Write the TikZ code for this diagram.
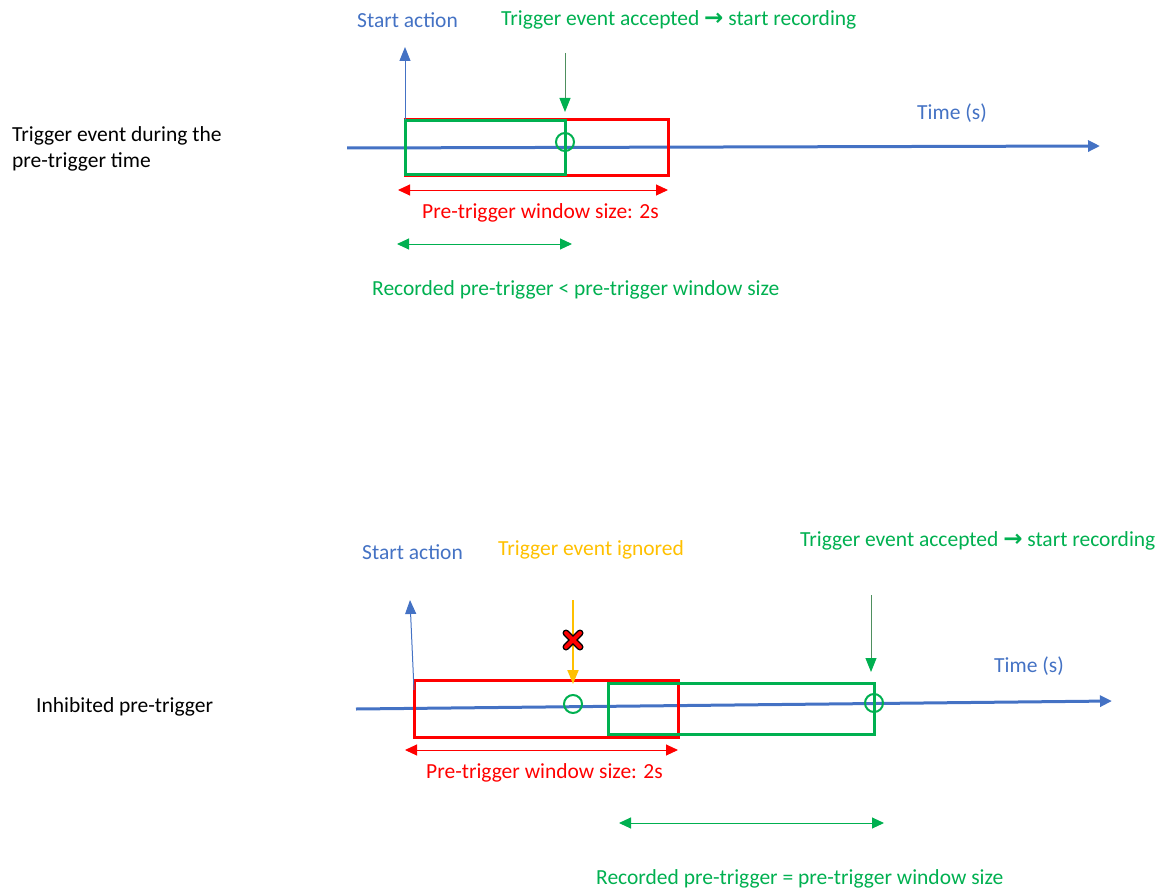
\documentclass[tikz,border=0pt]{standalone}
\usepackage{fontspec}
\setmainfont{Carlito}
\newfontfamily\arrowfont{DejaVu Sans}
\usetikzlibrary{arrows.meta}
\definecolor{cblue}{HTML}{4472C4}
\definecolor{cred}{HTML}{FF0000}
\definecolor{cgreen}{HTML}{00B050}
\definecolor{cdgreen}{HTML}{4E8F5E}
\definecolor{corange}{HTML}{FFC000}
\newcommand{\rarrowsym}{{\arrowfont\bfseries\fontsize{23}{25}\selectfont →}}
\begin{document}
\begin{tikzpicture}[x=1pt,y=-1pt,
  font=\fontsize{21.5}{26}\selectfont,
  lbl/.style={anchor=west, inner sep=0pt},
  axis/.style={cblue, line width=3, -{Triangle[length=12,width=11]}},
  startarr/.style={cblue, line width=1, -{Triangle[length=14,width=11]}},
  trigarr/.style={cdgreen, line width=1, -{Triangle[length=14,width=11,color=cgreen]}},
  ignarr/.style={corange, line width=2, -{Triangle[length=14,width=11]}},
  rrect/.style={draw=cred, line width=3},
  grect/.style={draw=cgreen, line width=3},
  mark circ/.style={circle, draw=cgreen, line width=2, minimum size=18pt, inner sep=0pt},
  rdim/.style={cred, line width=1, {Triangle[length=12,width=11]}-{Triangle[length=12,width=11]}},
  gdim/.style={cgreen, line width=1, {Triangle[length=12,width=11]}-{Triangle[length=12,width=11]}}
]
\useasboundingbox (0,0) rectangle (1162,888);

% ---------- Top scenario ----------
\node[lbl, align=left] (lab1) at (12,149) {Trigger event during the\\pre-trigger time};
\coordinate (a1s) at (347,148);
\coordinate (a1e) at (1100,146);
\draw[axis] (a1s) -- (a1e);
\node[lbl, text=cblue] (time1) at (917,113) {Time (s)};

\draw[rrect] (405,120) rectangle (668,175);
\draw[grect] (405,121) rectangle (565,174);
\node[mark circ] (c1) at (565,142) {};

\coordinate (s1b) at (405,120);
\coordinate (s1t) at (405,47);
\draw[startarr] (s1b) -- (s1t);
\node[lbl, text=cblue] (start1) at (357,20) {Start action};

\coordinate (t1t) at (565,53);
\coordinate (t1b) at (565,112);
\draw[trigarr] (t1t) -- (t1b);
\node[lbl, text=cgreen] (acc1) at (501,20) {Trigger event accepted \rarrowsym{} start recording};

\coordinate (r1l) at (398,190);
\coordinate (r1r) at (668,190);
\draw[rdim] (r1l) -- (r1r);
\node[lbl, text=cred] (win1) at (422,213) {Pre-trigger window size: 2s};

\coordinate (g1l) at (397,244);
\coordinate (g1r) at (572,244);
\draw[gdim] (g1l) -- (g1r);
\node[lbl, text=cgreen] (rec1) at (372,290) {Recorded pre-trigger < pre-trigger window size};

% ---------- Bottom scenario ----------
\node[lbl] (lab2) at (36,707) {Inhibited pre-trigger};
\coordinate (a2s) at (356,709);
\coordinate (a2e) at (1112,701);
\draw[axis] (a2s) -- (a2e);
\node[lbl, text=cblue] (time2) at (994,666) {Time (s)};

\draw[rrect] (414,680) rectangle (678,737);
\draw[grect] (608,683) rectangle (874,734);
\node[mark circ] (c2) at (573,704) {};
\node[mark circ] (c3) at (874,703) {};

\coordinate (s2b) at (414,690);
\coordinate (s2t) at (410,600);
\draw[startarr] (s2b) -- (s2t);
\node[lbl, text=cblue] (start2) at (362,552) {Start action};

\coordinate (i2t) at (573,600);
\coordinate (i2b) at (573,684);
\draw[ignarr] (i2t) -- (i2b);
\node[lbl, text=corange] (ign2) at (498,550) {Trigger event ignored};
% cross
\begin{scope}[shift={(573,640)}]
  \draw[black, line width=7, line cap=round] (-7,-7) -- (7,7) (-7,7) -- (7,-7);
  \draw[cred, line width=4, line cap=round] (-7,-7) -- (7,7) (-7,7) -- (7,-7);
\end{scope}

\coordinate (t2t) at (871,595);
\coordinate (t2b) at (871,672);
\draw[trigarr] (t2t) -- (t2b);
\node[lbl, text=cgreen] (acc2) at (800,541) {Trigger event accepted \rarrowsym{} start recording};

\coordinate (r2l) at (405,750);
\coordinate (r2r) at (678,750);
\draw[rdim] (r2l) -- (r2r);
\node[lbl, text=cred] (win2) at (426,773) {Pre-trigger window size: 2s};

\coordinate (g2l) at (619,823);
\coordinate (g2r) at (884,823);
\draw[gdim] (g2l) -- (g2r);
\node[lbl, text=cgreen] (rec2) at (596,879) {Recorded pre-trigger = pre-trigger window size};
\end{tikzpicture}
\end{document}
